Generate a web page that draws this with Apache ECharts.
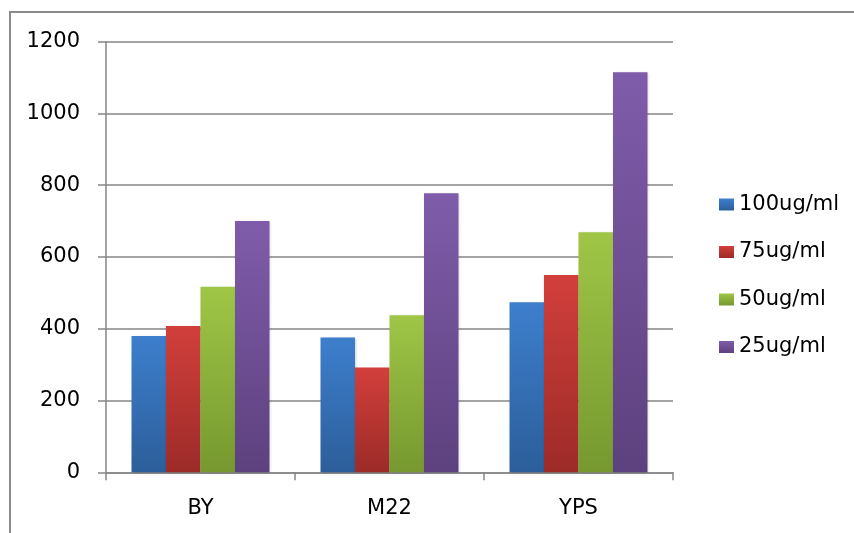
<!DOCTYPE html>
<html>
<head>
<meta charset="utf-8">
<script src="https://cdn.jsdelivr.net/npm/echarts@6/dist/echarts.min.js"></script>
<style>
  html, body { margin: 0; padding: 0; background: #fff; }
  #chart { width: 854px; height: 533px; }
</style>
</head>
<body>
<div id="chart"></div>
<script>
// Cell lines on the category axis
const categories = ['BY', 'M22', 'YPS'];

// Concentrations (legend entries)
const seriesNames = ['100ug/ml', '75ug/ml', '50ug/ml', '25ug/ml'];

// Values per concentration, in category order
const values100 = [380, 376, 474];
const values75 = [408, 292, 550];
const values50 = [517, 438, 669];
const values25 = [700, 778, 1115];

// Y axis ticks
const yTicks = [0, 200, 400, 600, 800, 1000, 1200];

const seriesValues = [values100, values75, values50, values25];

// Vertical gradients: lighter at the top, darker at the base
const palette = [
  ['#3d7fcd', '#2c5e9a'],
  ['#d23f3b', '#9c2b28'],
  ['#9fc646', '#76982f'],
  ['#7f5caa', '#5d417e']
];

const fontFamily = 'DejaVu Sans';

const chart = echarts.init(document.getElementById('chart'), null, { renderer: 'canvas' });

chart.setOption({
  animation: false,
  backgroundColor: '#ffffff',
  graphic: [{
    type: 'rect',
    shape: { x: 10, y: 12, width: 900, height: 600 },
    style: { fill: 'none', stroke: '#8a8a8a', lineWidth: 2 },
    silent: true
  }],
  grid: { left: 106, right: 181, top: 41.7, bottom: 60.7 },
  legend: {
    orient: 'vertical',
    left: 714,
    top: 189,
    itemWidth: 15,
    itemHeight: 12,
    itemGap: 26.5,
    icon: 'rect',
    data: seriesNames,
    textStyle: { fontFamily: fontFamily, fontSize: 21, color: '#000' }
  },
  xAxis: {
    type: 'category',
    data: categories,
    axisLine: { lineStyle: { color: '#868686', width: 1.5 } },
    axisTick: { show: true, length: 8, lineStyle: { color: '#868686', width: 1.5 } },
    axisLabel: { fontFamily: fontFamily, fontSize: 21, color: '#000', margin: 26 },
    splitLine: { show: false }
  },
  yAxis: {
    type: 'value',
    min: yTicks[0],
    max: yTicks[yTicks.length - 1],
    interval: yTicks[1] - yTicks[0],
    axisLine: { show: true, lineStyle: { color: '#868686', width: 1.5 } },
    axisTick: { show: true, length: 8, lineStyle: { color: '#868686', width: 1.5 } },
    axisLabel: {
      fontFamily: fontFamily, fontSize: 21, color: '#000', margin: 26,
      formatter: (v) => String(v)
    },
    splitLine: { show: true, lineStyle: { color: '#868686', width: 1.5 } }
  },
  series: seriesNames.map((name, i) => ({
    name: name,
    type: 'bar',
    data: seriesValues[i],
    barGap: '0%',
    barCategoryGap: '27%',
    itemStyle: {
      color: new echarts.graphic.LinearGradient(0, 0, 0, 1, [
        { offset: 0, color: palette[i][0] },
        { offset: 1, color: palette[i][1] }
      ]),
      shadowBlur: 3,
      shadowColor: 'rgba(0,0,0,0.25)',
      shadowOffsetX: 1,
      shadowOffsetY: 1
    }
  }))
});
</script>
</body>
</html>
